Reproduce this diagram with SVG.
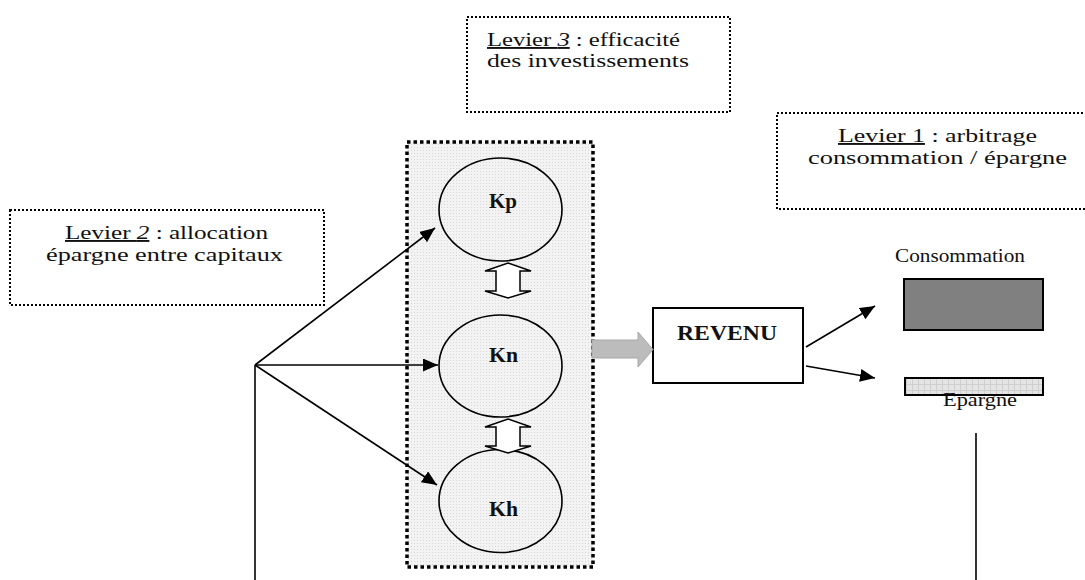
<svg xmlns="http://www.w3.org/2000/svg" width="1085" height="580" viewBox="0 0 1085 580">
<style>
.t{font-family:"Liberation Serif","Times New Roman",serif;font-size:19px;fill:#111}
.b{font-family:"Liberation Serif","Times New Roman",serif;font-weight:bold;font-size:21px;fill:#111}
.lev{fill:#fff;stroke:#000;stroke-width:2;stroke-dasharray:2 2}
.ell{fill:none;stroke:#000;stroke-width:1.6}
.con{fill:none;stroke:#000;stroke-width:1.6}
.dbl{fill:#fff;stroke:#000;stroke-width:1.5;stroke-linejoin:miter}
</style>
<defs>
<marker id="ah" markerUnits="userSpaceOnUse" markerWidth="16" markerHeight="13" refX="15" refY="6.5" orient="auto">
<path d="M0,0 L15,6.5 L0,13 Z" fill="#000"/>
</marker>
<pattern id="dots" width="3" height="3" patternUnits="userSpaceOnUse">
<rect width="3" height="3" fill="#f3f3f3"/>
<rect width="1" height="1" fill="#d6d6d6"/>
</pattern>
<pattern id="grid" width="6" height="6" patternUnits="userSpaceOnUse">
<rect width="6" height="6" fill="#e4e4e4"/>
<path d="M0,0.5 H6 M0.5,0 V6" stroke="#cfcfcf" stroke-width="1"/>
</pattern>
</defs>

<g id="levier3">
<rect class="lev" x="467" y="17" width="263" height="95"/>
<text class="t" x="487" y="46" textLength="193" lengthAdjust="spacingAndGlyphs"><tspan text-decoration="underline">Levier <tspan font-style="italic">3</tspan></tspan> : efficacité</text>
<text class="t" x="487" y="67" textLength="202" lengthAdjust="spacingAndGlyphs">des investissements</text>
</g>

<g id="levier1">
<rect class="lev" x="777" y="113" width="320" height="96"/>
<text class="t" x="838" y="142" textLength="199" lengthAdjust="spacingAndGlyphs"><tspan text-decoration="underline">Levier 1</tspan> : arbitrage</text>
<text class="t" x="808" y="164" textLength="259" lengthAdjust="spacingAndGlyphs">consommation / épargne</text>
</g>

<g id="levier2">
<rect class="lev" x="10" y="210" width="314" height="95"/>
<text class="t" x="65" y="239" textLength="203" lengthAdjust="spacingAndGlyphs"><tspan text-decoration="underline">Levier <tspan font-style="italic">2</tspan></tspan> : allocation</text>
<text class="t" x="46" y="261" textLength="237" lengthAdjust="spacingAndGlyphs">épargne entre capitaux</text>
</g>

<g id="capitaux">
<rect x="407" y="142" width="186" height="425" fill="url(#dots)" stroke="#000" stroke-width="3.5" stroke-dasharray="3.5 3"/>
</g>

<g id="Kp">
<ellipse class="ell" cx="500.5" cy="209.5" rx="61.5" ry="51.5"/>
<text class="b" x="489" y="208" textLength="28" lengthAdjust="spacingAndGlyphs">Kp</text>
</g>
<g id="Kn">
<ellipse class="ell" cx="500.5" cy="366" rx="61.5" ry="51"/>
<text class="b" x="489" y="362" textLength="29" lengthAdjust="spacingAndGlyphs">Kn</text>
</g>
<g id="Kh">
<ellipse class="ell" cx="500.5" cy="501" rx="61.5" ry="51.5"/>
<text class="b" x="489" y="516" textLength="29" lengthAdjust="spacingAndGlyphs">Kh</text>
</g>

<g id="revenu">
<rect x="653" y="308" width="150" height="75" fill="#fff" stroke="#000" stroke-width="2"/>
<text class="b" x="677" y="340" textLength="100" lengthAdjust="spacingAndGlyphs">REVENU</text>
</g>

<g id="consommation">
<text class="t" x="895" y="262" textLength="130" lengthAdjust="spacingAndGlyphs" font-size="17">Consommation</text>
<rect x="904" y="279" width="139" height="51" fill="#808080" stroke="#000" stroke-width="2"/>
</g>

<g id="epargne">
<rect x="905" y="378" width="138" height="17" fill="url(#grid)" stroke="#000" stroke-width="2"/>
<text class="t" x="943" y="406" textLength="74" lengthAdjust="spacingAndGlyphs">Epargne</text>
</g>

<g id="connectors">
<line class="con" x1="255" y1="365" x2="255" y2="580"/>
<line class="con" x1="255" y1="365" x2="435" y2="228" marker-end="url(#ah)"/>
<line class="con" x1="255" y1="365" x2="438" y2="365" marker-end="url(#ah)"/>
<line class="con" x1="255" y1="365" x2="437" y2="485" marker-end="url(#ah)"/>
<path class="dbl" d="M508,263 L531,271 L520,271 L520,291 L531,291 L508,298 L485,291 L496,291 L496,271 L485,271 Z"/>
<path class="dbl" d="M508,419 L531,427 L520,427 L520,446 L531,446 L508,453 L485,446 L496,446 L496,427 L485,427 Z"/>
<path d="M592,340 L638,340 L638,332 L653,349.5 L638,367 L638,358 L592,358 Z" fill="#bcbcbc" stroke="#a8a8a8" stroke-width="1"/>
<line class="con" x1="806" y1="347" x2="875" y2="306" marker-end="url(#ah)"/>
<line class="con" x1="806" y1="366" x2="875" y2="378" marker-end="url(#ah)"/>
<line class="con" x1="976" y1="433" x2="976" y2="580"/>
</g>
</svg>
